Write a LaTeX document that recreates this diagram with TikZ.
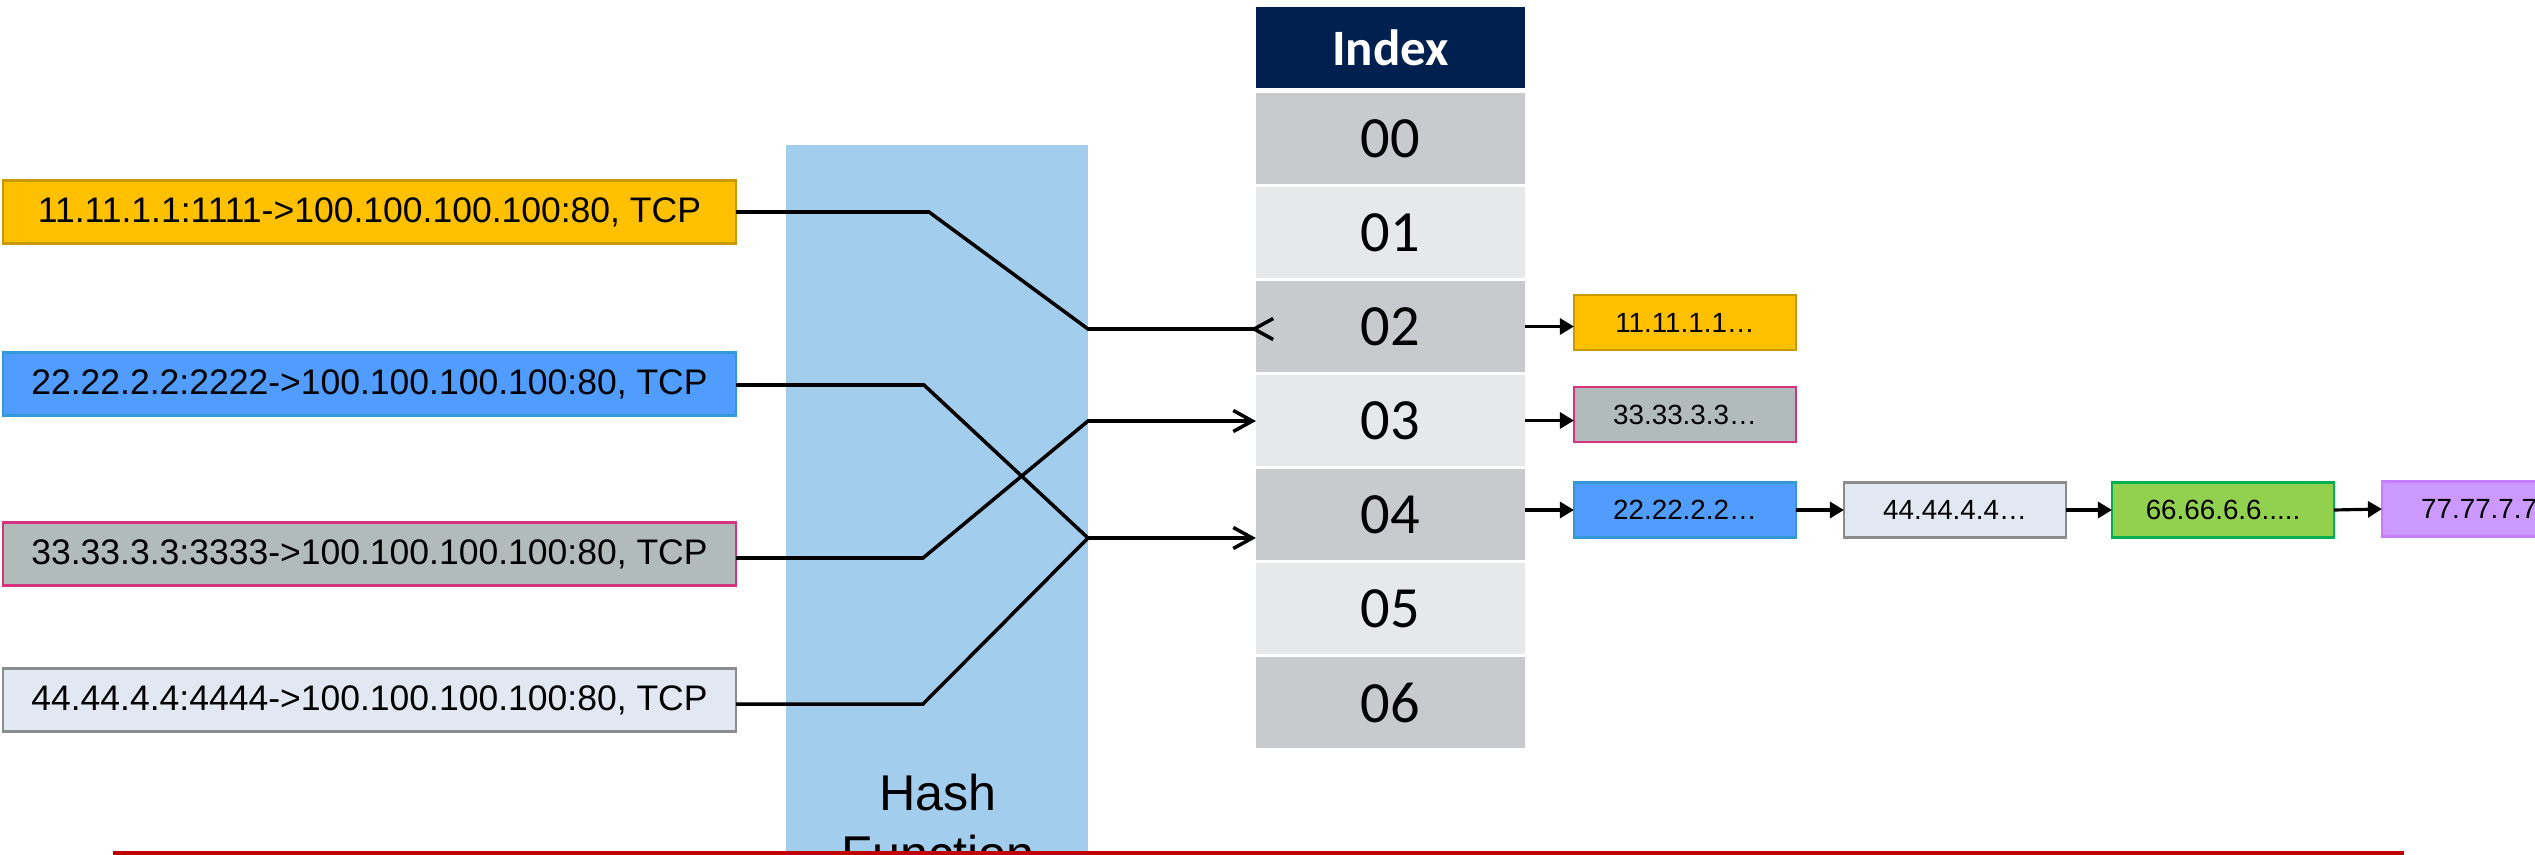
\documentclass[tikz,border=0pt]{standalone}
\usepackage{fontspec}
\setmainfont{Liberation Sans}
\newfontfamily\calibri{Carlito}
\usetikzlibrary{arrows.meta}

\definecolor{goldfill}{HTML}{FFC000}
\definecolor{golddraw}{HTML}{C99A00}
\definecolor{bluefill}{HTML}{519CFF}
\definecolor{bluedraw}{HTML}{3399D6}
\definecolor{grayfill}{HTML}{B0BBBA}
\definecolor{pinkdraw}{HTML}{D6337F}
\definecolor{palefill}{HTML}{E1E8F1}
\definecolor{paledraw}{HTML}{8C8C8C}
\definecolor{greenfill}{HTML}{92D050}
\definecolor{greendraw}{HTML}{00B050}
\definecolor{purplefill}{HTML}{CC99FF}
\definecolor{purpledraw}{HTML}{C77DFF}
\definecolor{hashblue}{HTML}{A3CDED}
\definecolor{rowdark}{HTML}{C9CACE}
\definecolor{rowlight}{HTML}{E7E8EA}
\definecolor{navy}{HTML}{00214F}
\definecolor{rulered}{HTML}{C00000}

\begin{document}
\begin{tikzpicture}[
  x=0.01cm, y=-0.01cm,
  flowbox/.style={rectangle, inner sep=0pt, outer sep=0pt, line width=0.6pt,
    minimum width=7.33cm, minimum height=0.63cm,
    font=\fontsize{10.1}{12}\selectfont},
  entrybox/.style={rectangle, inner sep=0pt, outer sep=0pt, line width=0.6pt,
    minimum width=2.22cm, minimum height=0.55cm,
    font=\fontsize{7.9}{9.5}\selectfont},
  cell/.style={rectangle, inner sep=0pt, outer sep=0pt,
    minimum width=2.69cm, minimum height=0.91cm,
    font=\calibri\fontsize{16.6}{20}\selectfont},
  headcell/.style={rectangle, inner sep=0pt, outer sep=0pt, fill=navy,
    minimum width=2.69cm, minimum height=0.81cm, text=white,
    font=\calibri\bfseries\fontsize{14.5}{17}\selectfont},
  wire/.style={line width=1pt, line join=miter},
  openhead/.style={-{Straight Barb[length=0.19cm, width=0.21cm]}},
  backhead/.style={-{Straight Barb[reversed, length=0.19cm, width=0.21cm]},
    shorten >=-0.19cm},
  solidhead/.style={line width=0.9pt, -{Triangle[length=0.14cm, width=0.16cm]}},
]
\useasboundingbox (0,0) rectangle (2535,854);
\clip (0,0) rectangle (2535,854);

% hash function block
\node[rectangle, fill=hashblue, inner sep=0pt, minimum width=3.02cm,
  minimum height=7.55cm] (hash) at (937,522.5) {};
\node[anchor=base, align=center, inner sep=0pt,
  font=\fontsize{14.3}{17.2}\selectfont] (hashlabel) at (938,871)
  {Hash\\Function};

% incoming flows
\node[flowbox, fill=goldfill, draw=golddraw] (b1) at (369.5,212)
  {11.11.1.1:1111->100.100.100.100:80, TCP};
\node[flowbox, fill=bluefill, draw=bluedraw] (b2) at (369.5,384)
  {22.22.2.2:2222->100.100.100.100:80, TCP};
\node[flowbox, fill=grayfill, draw=pinkdraw] (b3) at (369.5,554)
  {33.33.3.3:3333->100.100.100.100:80, TCP};
\node[flowbox, fill=palefill, draw=paledraw] (b4) at (369.5,700)
  {44.44.4.4:4444->100.100.100.100:80, TCP};

% index table
\node[headcell] (head) at (1390.5,47.5) {Index};
\node[cell, fill=rowdark]  (r00) at (1390.5,138.5) {00};
\node[cell, fill=rowlight] (r01) at (1390.5,232.5) {01};
\node[cell, fill=rowdark]  (r02) at (1390.5,326.5) {02};
\node[cell, fill=rowlight] (r03) at (1390.5,420.5) {03};
\node[cell, fill=rowdark]  (r04) at (1390.5,514.5) {04};
\node[cell, fill=rowlight] (r05) at (1390.5,608.5) {05};
\node[cell, fill=rowdark]  (r06) at (1390.5,702.5) {06};

% bucket entries
\node[entrybox, fill=goldfill, draw=golddraw] (c1) at (1685,322.5) {11.11.1.1…};
\node[entrybox, fill=grayfill, draw=pinkdraw] (c2) at (1685,414.5) {33.33.3.3…};
\node[entrybox, fill=bluefill, draw=bluedraw] (c3) at (1685,510) {22.22.2.2…};
\node[entrybox, fill=palefill, draw=paledraw] (c4) at (1955,510) {44.44.4.4…};
\node[entrybox, fill=greenfill, draw=greendraw] (c5) at (2223,510) {66.66.6.6.....};
\node[entrybox, fill=purplefill, draw=purpledraw] (c6) at (2493,509) {77.77.7.7…};

% bend points of the hashing paths
\coordinate (k1a) at (929,212);
\coordinate (k1b) at (1088,329);
\coordinate (k2a) at (924,385);
\coordinate (hub) at (1088,538);
\coordinate (k3a) at (923,558);
\coordinate (k3b) at (1088,421);
\coordinate (k4a) at (923,704);

\draw[wire, backhead] (b1.east) -- (k1a) -- (k1b) -- (r02.west |- k1b);
\draw[wire, openhead] (b2.east |- k2a) -- (k2a) -- (hub) -- (r04.west |- hub);
\draw[wire, openhead] (b3.east |- k3a) -- (k3a) -- (k3b) -- (r03.west |- k3b);
\draw[wire] (b4.east |- k4a) -- (k4a) -- (hub);

% buckets to chained entries
\draw[solidhead] (r02.east) -- (c1.west |- r02.east);
\draw[solidhead] (r03.east) -- (c2.west |- r03.east);
\draw[solidhead] (r04.east |- c3.east) -- (c3.west);
\draw[solidhead] (c3.east) -- (c4.west);
\draw[solidhead] (c4.east) -- (c5.west);
\draw[solidhead] (c5.east) -- (c6.west);

% bottom rule
\fill[rulered] (113,851) rectangle (2404,860);
\end{tikzpicture}
\end{document}
